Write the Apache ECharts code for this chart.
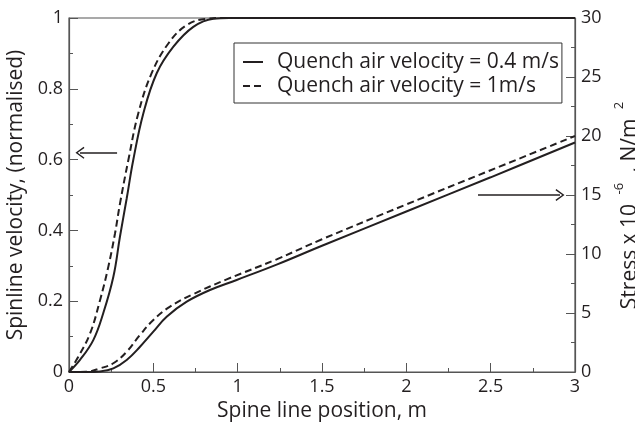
<!DOCTYPE html>
<html>
<head>
<meta charset="utf-8">
<script src="https://cdn.jsdelivr.net/npm/echarts@6/dist/echarts.min.js"></script>
<style>
  html, body { margin: 0; padding: 0; background: #fff; }
  #chart { width: 635px; height: 422px; }
</style>
</head>
<body>
<div id="chart"></div>
<script>
// spinline velocity (left axis)
const velSolidX = [0, 0.065, 0.144, 0.203, 0.263, 0.302, 0.342, 0.381, 0.441, 0.52, 0.619, 0.737, 0.856, 0.95, 1.5, 3];
const velSolidY = [0, 0.034, 0.09, 0.166, 0.269, 0.382, 0.49, 0.599, 0.731, 0.844, 0.919, 0.975, 0.998, 1, 1, 1];
const velDashX = [0, 0.055, 0.125, 0.184, 0.233, 0.273, 0.302, 0.352, 0.411, 0.49, 0.589, 0.698, 0.816, 0.9, 1.5, 3];
const velDashY = [0, 0.043, 0.109, 0.203, 0.297, 0.392, 0.475, 0.599, 0.731, 0.844, 0.928, 0.98, 0.998, 1, 1, 1];

// stress x 10^-6 (right axis)
const stressSolidX = [0, 0.1, 0.184, 0.263, 0.342, 0.421, 0.5, 0.579, 0.698, 0.836, 0.994, 1.231, 1.5, 2, 2.5, 3];
const stressSolidY = [0, 0, 0.05, 0.31, 1.02, 2.14, 3.42, 4.69, 5.96, 6.95, 7.8, 9.1, 10.7, 13.6, 16.5, 19.45];
const stressDashX = [0, 0.1, 0.184, 0.263, 0.342, 0.421, 0.5, 0.599, 0.737, 0.935, 1.231, 1.5, 2, 2.5, 3];
const stressDashY = [0, 0.02, 0.31, 0.74, 1.72, 3.14, 4.41, 5.54, 6.6, 7.85, 9.55, 11.25, 14.2, 17.1, 20.0];

const seriesNames = ['Quench air velocity = 0.4 m/s', 'Quench air velocity = 1m/s'];

// arrows pointing to the axis each curve pair belongs to
const arrowLeftX = [0.285, 0.065];
const arrowLeftY = 0.619;
const arrowRightX = [2.425, 2.911];
const arrowRightY = 15;

const zip = (xs, ys) => xs.map((x, i) => [x, ys[i]]);

const ink = '#231f20';
const axisGrey = '#555';
const font = 'Open Sans';
const chevron = 'path://M5,0 L10,8 L9,8.8 L5,2.2 L1,8.8 L0,8 Z';

const chart = echarts.init(document.getElementById('chart'), null, { renderer: 'canvas' });

const axisCommon = {
  type: 'value',
  axisLine: { show: true, lineStyle: { color: axisGrey, width: 1.2 } },
  axisTick: { show: true, inside: true, length: 9, lineStyle: { color: axisGrey } },
  minorTick: { show: true, splitNumber: 2, length: 4, lineStyle: { color: axisGrey } },
  splitLine: { show: false },
  axisLabel: { color: ink, fontFamily: font, fontSize: 18, margin: 6 },
  nameTextStyle: { color: ink, fontFamily: font, fontSize: 21 }
};

const arrowLine = (xs, y) => ({
  silent: true,
  animation: false,
  symbol: ['none', chevron],
  symbolSize: [12, 9],
  label: { show: false },
  lineStyle: { color: ink, width: 1.5, type: 'solid' },
  data: [[{ coord: [xs[0], y] }, { coord: [xs[1], y] }]]
});

chart.setOption({
  animation: false,
  backgroundColor: '#fff',
  grid: {
    left: 69, right: 60, top: 18, bottom: 50,
    outerBoundsMode: 'none',
    show: true, borderColor: axisGrey, borderWidth: 1.2
  },
  legend: {
    orient: 'vertical',
    left: 234, top: 43,
    data: seriesNames,
    itemWidth: 20, itemHeight: 14, itemGap: 0,
    itemStyle: { opacity: 0 },
    padding: [7, 3, 5, 8],
    borderColor: '#333', borderWidth: 1,
    textStyle: { color: ink, fontFamily: font, fontSize: 21, lineHeight: 24, padding: [0, 0, 0, 9] }
  },
  xAxis: {
    ...axisCommon,
    min: 0, max: 3, interval: 0.5,
    name: 'Spine line position, m',
    nameLocation: 'middle', nameGap: 24
  },
  yAxis: [
    {
      ...axisCommon,
      min: 0, max: 1, interval: 0.2,
      name: 'Spinline velocity, (normalised)',
      nameLocation: 'middle', nameGap: 32
    },
    {
      ...axisCommon,
      position: 'right',
      min: 0, max: 30, interval: 5,
      name: '{m|Stress x 10}{s| -6}{m| , N/m}{s| 2}',
      nameLocation: 'middle', nameGap: 22, nameRotate: 90,
      nameTextStyle: {
        padding: [0, 16, 0, 0],
        rich: {
          m: { color: ink, fontFamily: font, fontSize: 21, lineHeight: 28, verticalAlign: 'bottom' },
          s: { color: ink, fontFamily: font, fontSize: 13, lineHeight: 28, verticalAlign: 'top', padding: [0, 5, 0, 6] }
        }
      }
    }
  ],
  series: [
    {
      name: seriesNames[0], type: 'line', yAxisIndex: 0, showSymbol: false, symbol: 'none', smooth: 0.4,
      lineStyle: { color: ink, width: 2 }, itemStyle: { color: ink },
      data: zip(velSolidX, velSolidY),
      markLine: arrowLine(arrowLeftX, arrowLeftY)
    },
    {
      name: seriesNames[1], type: 'line', yAxisIndex: 0, showSymbol: false, symbol: 'none', smooth: 0.4,
      lineStyle: { color: ink, width: 2, type: [7, 4] }, itemStyle: { color: ink },
      data: zip(velDashX, velDashY)
    },
    {
      name: seriesNames[0], type: 'line', yAxisIndex: 1, showSymbol: false, symbol: 'none', smooth: 0.4,
      lineStyle: { color: ink, width: 2 }, itemStyle: { color: ink },
      data: zip(stressSolidX, stressSolidY),
      markLine: arrowLine(arrowRightX, arrowRightY)
    },
    {
      name: seriesNames[1], type: 'line', yAxisIndex: 1, showSymbol: false, symbol: 'none', smooth: 0.4,
      lineStyle: { color: ink, width: 2, type: [7, 4] }, itemStyle: { color: ink },
      data: zip(stressDashX, stressDashY)
    }
  ]
});
</script>
</body>
</html>
